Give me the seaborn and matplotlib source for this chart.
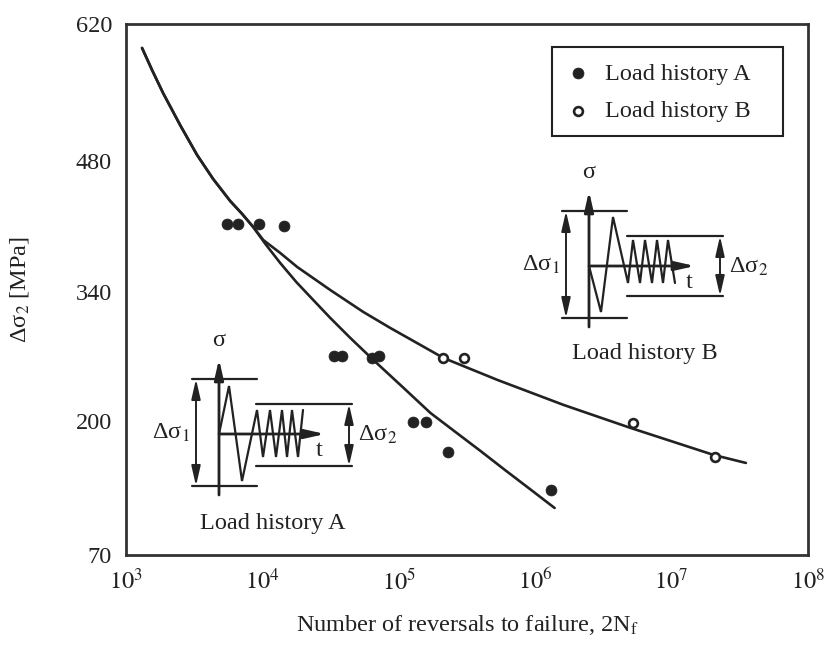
import numpy as np
import pandas as pd
import matplotlib
matplotlib.use("Agg")
import matplotlib.pyplot as plt
from matplotlib.patches import Rectangle
from matplotlib.ticker import FixedLocator, NullLocator, FuncFormatter
import seaborn as sns

# ---------------- data ----------------
# Load history A (filled circles)
a_reversals = [5520, 6640, 9480, 14450, 33700, 38500, 64000, 72100, 128000, 157000, 228000, 1300000]
a_stress = [413, 413, 413, 410.5, 270.5, 270.5, 268.4, 270.5, 199, 199, 170, 133]

# Load history B (open circles)
b_reversals = [212000, 303000, 5190000, 20700000]
b_stress = [268.4, 268.4, 198, 165]

# Fitted curves (common upper branch, then they separate)
curve_a_reversals = [1311, 1552, 1869, 2492, 3321, 4353, 5801, 7106, 8559, 10660, 13510,
                     17710, 23600, 31470, 44120, 65100, 102700, 170600, 260400, 397200,
                     606400, 925100, 1388000]
curve_a_stress = [595.5, 573.0, 549.5, 516.8, 486.1, 460.8, 437.3, 423.4, 409.5, 390.2, 371.0,
                  350.7, 331.3, 311.8, 290.1, 266.2, 239.1, 208.7, 189.3, 170.9,
                  152.0, 133.5, 115.6]

curve_b_reversals = [1311, 1552, 1869, 2492, 3321, 4353, 5801, 7106, 8559, 10140, 13510,
                     18010, 31470, 54960, 86770, 212600, 529700, 1616000, 5017000,
                     20400000, 35050000]
curve_b_stress = [595.5, 573.0, 549.5, 516.8, 486.1, 460.8, 437.3, 423.4, 409.5, 395.6, 381.7,
                  366.7, 342.1, 318.3, 300.9, 268.4, 244.5, 217.4, 193.2,
                  167.0, 159.3]

x_ticks = [1e3, 1e4, 1e5, 1e6, 1e7, 1e8]
y_ticks = [70, 200, 340, 480, 620]
y_tick_frac = [0.0, 0.2524, 0.4953, 0.7420, 1.0]   # tick labels are evenly placed in the original

legend_labels = ["Load history A", "Load history B"]

# ---------------- style ----------------
sns.set_theme(style="white")
plt.rcParams["font.family"] = ["Liberation Serif", "DejaVu Serif"]
plt.rcParams["mathtext.fontset"] = "stix"
C = "#222222"
FS = 17.5

fig = plt.figure(figsize=(8.24, 6.45), dpi=100)
ax = fig.add_axes([126 / 824, 1 - 555 / 645, 682 / 824, 531 / 645])

def fwd(v):
    return np.interp(np.asarray(v, dtype=float), y_ticks, y_tick_frac)

def inv(f):
    return np.interp(np.asarray(f, dtype=float), y_tick_frac, y_ticks)

ax.set_xscale("log")
ax.set_yscale("function", functions=(fwd, inv))

ca = pd.DataFrame({"N": curve_a_reversals, "S": curve_a_stress})
cb = pd.DataFrame({"N": curve_b_reversals, "S": curve_b_stress})
sns.lineplot(data=ca, x="N", y="S", sort=False, estimator=None, color=C, lw=1.9, ax=ax)
sns.lineplot(data=cb, x="N", y="S", sort=False, estimator=None, color=C, lw=1.9, ax=ax)

da = pd.DataFrame({"N": a_reversals, "S": a_stress})
db = pd.DataFrame({"N": b_reversals, "S": b_stress})
sns.scatterplot(data=da, x="N", y="S", marker="o", s=62, color=C, edgecolor=C,
                linewidth=0.5, label=legend_labels[0], ax=ax, zorder=4)
sns.scatterplot(data=db, x="N", y="S", marker="o", s=40, facecolor="white", edgecolor=C,
                linewidth=1.9, label=legend_labels[1], ax=ax, zorder=4)

ax.set_xlim(1e3, 1e8)
ax.set_ylim(70, 620)
ax.xaxis.set_major_locator(FixedLocator(x_ticks))
ax.xaxis.set_minor_locator(NullLocator())
ax.xaxis.set_major_formatter(FuncFormatter(lambda v, p: r"$10^{%d}$" % round(np.log10(v))))
ax.yaxis.set_major_locator(FixedLocator(y_ticks))
ax.yaxis.set_minor_locator(NullLocator())
ax.yaxis.set_major_formatter(FuncFormatter(lambda v, p: "%d" % round(v)))
ax.tick_params(direction="in", length=7, width=1.6, color=C, labelcolor=C,
               labelsize=FS, pad=10)
for sp in ax.spines.values():
    sp.set_linewidth(2.0)
    sp.set_color("#333333")
    sp.set_visible(True)

ax.set_xlabel("Number of reversals to failure, 2N$_\\mathrm{f}$", fontsize=FS, color=C, va="center")
ax.xaxis.set_label_coords((467 - 126) / 682, (555 - 625) / 531)
ax.set_ylabel("Δσ$_2$ [MPa]", fontsize=FS, color=C, va="center")
ax.yaxis.set_label_coords((20 - 126) / 682, (555 - 290) / 531)

leg = ax.legend(loc="upper left", bbox_to_anchor=((552 - 126) / 682, (555 - 47) / 531),
                frameon=False, fontsize=FS,
                handlelength=0.8, handletextpad=0.75, borderpad=0.65, labelspacing=0.62,
                borderaxespad=0)
for t in leg.get_texts():
    t.set_color(C)

# ---------------- schematic insets and legend box (decoration, pixel space) ----------------
ov = fig.add_axes([0, 0, 1, 1], zorder=5)
ov.set_xlim(0, 824)
ov.set_ylim(645, 0)
ov.axis("off")
ov.patch.set_alpha(0)

ov.add_patch(Rectangle((552, 47), 231, 89, fill=False, edgecolor=C, lw=1.5))

def seg(xs, ys, lw=1.6):
    ov.plot(xs, ys, color=C, lw=lw, solid_joinstyle="miter")

def arrow(x0, y0, x1, y1, both=False, lw=1.6):
    style = ("<|-|>" if both else "-|>") + ",head_length=0.75,head_width=0.17"
    ov.annotate("", xy=(x1, y1), xytext=(x0, y0),
                arrowprops=dict(arrowstyle=style, mutation_scale=16, lw=lw, color=C,
                                shrinkA=0, shrinkB=0))

def schematic(ox, oy, big, small_x, small_y, d2_top, d2_bot, d2_x0, d2_x1, title, title_xy):
    # sigma axis
    arrow(ox, oy + 61, ox, oy - 75, lw=2.0)
    ov.text(ox, oy - 93, "σ", ha="center", va="center", fontsize=FS, color=C)
    # delta sigma 1 limits
    seg([ox - 27, ox + 38], [oy - 55, oy - 55])
    seg([ox - 27, ox + 38], [oy + 52, oy + 52])
    arrow(ox - 23, oy - 55, ox - 23, oy + 52, both=True, lw=1.4)
    ov.text(ox - 29, oy - 1, "Δσ$_1$", ha="right", va="center", fontsize=FS, color=C)
    # time axis
    arrow(ox, oy, ox + 106, oy, lw=2.0)
    ov.text(ox + 100, oy + 17, "t", ha="center", va="center", fontsize=FS, color=C)
    # load signal
    seg([ox + v for v in big[0]] + [ox + v for v in small_x],
        [oy + v for v in big[1]] + [oy + v for v in small_y], lw=1.6)
    # delta sigma 2 limits
    seg([ox + d2_x0, ox + d2_x1], [oy + d2_top, oy + d2_top])
    seg([ox + d2_x0, ox + d2_x1], [oy + d2_bot, oy + d2_bot])
    arrow(ox + d2_x1 - 3, oy + d2_top, ox + d2_x1 - 3, oy + d2_bot, both=True, lw=1.4)
    ov.text(ox + d2_x1 + 6, oy + 1, "Δσ$_2$", ha="left", va="center", fontsize=FS, color=C)
    ov.text(title_xy[0], title_xy[1], title, ha="center", va="center", fontsize=FS, color=C)

# Load history A: first cycle goes up
schematic(219, 434,
          ([0, 10, 23], [0, -48, 47]),
          [38, 44, 51, 57, 63, 68, 73, 79, 84],
          [-24, 23, -24, 23, -24, 23, -24, 23, -24],
          -30, 32, 37, 133, "Load history A", (273, 523))

# Load history B: first cycle goes down
schematic(589, 266,
          ([0, 12, 24], [0, 46, -49]),
          [39, 44, 51, 56, 63, 68, 74, 79, 86],
          [17, -26, 17, -26, 17, -26, 17, -26, 17],
          -30, 30, 38, 134, "Load history B", (645, 353))

fig.savefig("out.png", dpi=100)
